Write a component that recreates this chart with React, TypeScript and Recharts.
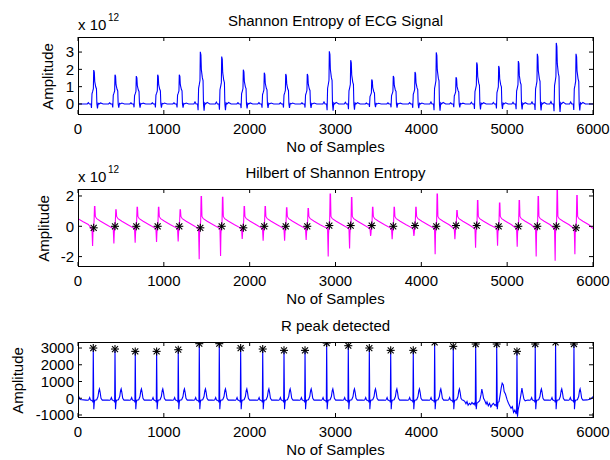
import React from "react"
import { LineChart, Line, XAxis, YAxis } from "recharts"

const FONT = '"Liberation Sans", Arial, Helvetica, sans-serif'
const xTicks = [0, 1000, 2000, 3000, 4000, 5000, 6000]
const X_MAX = 6000

// --- top panel: Shannon entropy (x 10^12) ---
const entropyPeaks = [183, 431, 679, 928, 1180, 1425, 1674, 1926, 2170, 2420, 2671, 2928, 3177, 3422, 3673, 3926, 4174, 4404, 4645, 4901, 5130, 5351, 5572, 5802]
const entropyHeights = [1.96, 1.69, 1.61, 1.69, 1.69, 3.01, 2.74, 1.98, 1.81, 1.73, 1.73, 3.04, 2.53, 1.42, 1.62, 1.85, 2.98, 1.54, 2.4, 2.2, 2.48, 2.9, 3.53, 2.9]
// offset from peak (samples), fraction of the peak height
const entropyShape: [number, number][] = [
  [-110, 0], [-75, 0], [-62, 0.04], [-50, 0], [-32, 0], [-26, -0.12], [-20, 0.3], [-12, 0.37],
  [-4, 0.45], [0, 1], [7, 0.94], [12, 0.66], [24, 0.5], [32, 0.45], [37, 0], [44, -0.13],
  [52, 0.02], [62, 0], [80, 0.03], [110, 0],
]

// --- middle panel: Hilbert of entropy (x 10^12) ---
const hilbertUp = [1.3, 1.09, 1.26, 1.26, 1.09, 1.96, 1.91, 1.3, 1.3, 1.22, 1.17, 2.13, 1.9, 1.26, 1.26, 1.26, 2.13, 1.04, 1.7, 1.54, 1.7, 1.96, 2.39, 2.02]
const hilbertDown = [-1.3, -1.13, -1.09, -1.04, -1.0, -2.17, -1.96, -0.83, -0.96, -0.96, -0.91, -2.0, -1.46, -0.63, -0.85, -0.63, -1.85, -0.85, -1.41, -1.28, -1.35, -2.0, -2.28, -1.85]
const hilbertStarY = [-0.1, 0, 0, 0, 0, -0.1, 0, -0.1, 0, 0, 0, 0.05, 0.05, 0.05, 0, 0.05, 0, 0.05, 0.05, 0, 0, 0, 0, -0.1]
const hilbertShape: [number, number | "down" | "up"][] = [
  [-30, -0.12], [-20, -0.2], [-13, "down"], [-9, -0.5], [-3, 0], [4, 0.3], [9, "up"], [14, "up"],
  [19, 0.65], [35, 0.5], [80, 0.33], [150, 0.1],
]
const hilbertStart: [number, number][] = [[0, 0.5], [60, 0.3], [120, 0.12]]
const hilbertEnd: [number, number][] = [[6000, -0.15]]

// --- bottom panel: ECG with detected R peaks ---
const rPeaks = [178, 431, 667, 916, 1168, 1413, 1646, 1895, 2152, 2400, 2645, 2897, 3149, 3394, 3643, 3906, 4155, 4372, 4633, 4878, 5114, 5327, 5564, 5778]
const rValues = [3000, 2940, 2800, 2800, 2900, 3260, 3260, 3000, 2940, 2860, 2860, 3300, 3140, 3000, 2860, 2860, 3340, 3100, 3240, 3240, 2800, 3240, 3340, 3240]
// offset from R (samples), value; the 0 offset takes the R value
const ecgShape: [number, number][] = [
  [-85, -110], [-60, -120], [-50, -60], [-42, 40], [-34, -90], [-20, -130], [-8, -160], [-4, -250],
  [0, 0], [6, -650], [12, -250], [18, -120], [40, -90], [55, 100], [65, 450], [72, 560], [80, 350],
  [90, 0], [105, -110],
]
const ecgNoisyFrom = 4480
const ecgNoisyTo = 5235
const ecgNoisy: [number, number][] = [
  [4490, -120], [4505, -180], [4520, -330], [4532, -200], [4545, -420], [4560, -300], [4575, -380],
  [4590, -250], [4605, -350], [4615, -300], [4625, -400], [4629, -150], [4633, 3240], [4640, -650],
  [4647, -300], [4660, -250], [4680, -150], [4695, 200], [4705, 550], [4715, 300], [4725, 0],
  [4740, -150], [4755, -350], [4765, -220], [4780, -450], [4795, -300], [4810, -520], [4825, -380],
  [4840, -300], [4855, -420], [4868, -380], [4874, -500], [4878, 3240], [4885, -650], [4893, -250],
  [4905, -200], [4918, 200], [4930, 600], [4942, 900], [4955, 800], [4965, 400], [4980, 250],
  [5000, -100], [5015, -300], [5030, -450], [5045, -600], [5060, -500], [5075, -850], [5090, -700],
  [5105, -950], [5110, -700], [5114, 2800], [5120, -1100], [5128, -700], [5140, -400], [5160, 200],
  [5172, 600], [5182, 300], [5195, -50], [5210, -150], [5230, -120],
]
const ecgStart: [number, number][] = [[0, 200], [25, -80]]
const ecgEnd: [number, number][] = [[5930, -100], [5975, -50], [6000, 100]]

const entropyData = [
  { x: 0, y: 0 },
  ...entropyPeaks.flatMap((p, i) => entropyShape.map(([dx, f]) => ({ x: p + dx, y: f * entropyHeights[i] }))),
  { x: 6000, y: 0 },
]

const hilbertData = [
  ...hilbertStart.map(([x, y]) => ({ x, y })),
  ...entropyPeaks.flatMap((p, i) =>
    hilbertShape.map(([dx, v]) => ({
      x: p + dx,
      y: v === "up" ? hilbertUp[i] : v === "down" ? hilbertDown[i] : v,
    }))
  ),
  ...hilbertEnd.map(([x, y]) => ({ x, y })),
]
const hilbertStars = entropyPeaks.map((p, i) => ({ x: p, y: hilbertStarY[i] }))

const ecgData = [
  ...ecgStart,
  ...rPeaks.flatMap((p, i) =>
    p > ecgNoisyFrom && p < ecgNoisyTo
      ? []
      : ecgShape.map(([dx, v]) => [p + dx, dx === 0 ? rValues[i] : v] as [number, number])
  ),
  ...ecgNoisy,
  ...ecgEnd,
]
  .sort((a, b) => a[0] - b[0])
  .map(([x, y]) => ({ x, y }))
const ecgStars = rPeaks.map((p, i) => ({ x: p, y: rValues[i] }))

const Star = (props: any) => {
  const { cx, cy, index } = props
  if (cx == null || cy == null) return <g key={index} />
  return (
    <g key={index} stroke="#000" strokeWidth={1.1}>
      <line x1={cx - 4} y1={cy} x2={cx + 4} y2={cy} />
      <line x1={cx} y1={cy - 4} x2={cx} y2={cy + 4} />
      <line x1={cx - 3} y1={cy - 3} x2={cx + 3} y2={cy + 3} />
      <line x1={cx - 3} y1={cy + 3} x2={cx + 3} y2={cy - 3} />
    </g>
  )
}

const W = 610
const LEFT = 78
const RIGHT = 17
const tickStyle = { fontSize: 15, fill: "#000", fontFamily: FONT }
const line = { stroke: "#000" }

type PanelOpts = {
  height: number
  mTop: number
  mBottom: number
  title: string
  exp?: boolean
  yDomain: [number, number]
  yTicks: number[]
  yLabelX: number
  series: React.ReactNode
}

function panel({ height, mTop, mBottom, title, exp, yDomain, yTicks, yLabelX, series }: PanelOpts) {
  const plotBottom = height - mBottom - 30
  const plotW = W - RIGHT - LEFT
  const plotH = plotBottom - mTop
  const midX = LEFT + plotW / 2
  const midY = (mTop + plotBottom) / 2 + 1
  const [y0, y1] = yDomain

  const xLabel = () => (
    <text x={midX} y={plotBottom + 38} textAnchor="middle" fontSize={15} fontFamily={FONT} fill="#000">
      No of Samples
    </text>
  )

  // y-label, title, exponent and the MATLAB-style box with inward ticks on top/right
  const yLabel = () => (
    <g fontFamily={FONT} fill="#000">
      <text x={yLabelX} y={midY} transform={`rotate(-90 ${yLabelX} ${midY})`} textAnchor="middle" fontSize={15}>
        Amplitude
      </text>
      <text x={midX} y={mTop - 11} textAnchor="middle" fontSize={15}>
        {title}
      </text>
      {exp && (
        <>
          <text x={LEFT} y={mTop - 7.5} fontSize={15}>
            x 10
          </text>
          <text x={108} y={mTop - 16} fontSize={10}>
            12
          </text>
        </>
      )}
      <g stroke="#000" strokeWidth={1} fill="none">
        <rect x={LEFT + 0.5} y={mTop + 0.5} width={plotW} height={plotH} />
        {xTicks.map((t) => {
          const x = LEFT + (t / X_MAX) * plotW
          return <line key={`t${t}`} x1={x} y1={mTop} x2={x} y2={mTop + 4} />
        })}
        {yTicks.map((t) => {
          const y = mTop + ((y1 - t) / (y1 - y0)) * plotH
          return <line key={`r${t}`} x1={LEFT + plotW} y1={y} x2={LEFT + plotW - 4} y2={y} />
        })}
      </g>
    </g>
  )

  return (
    <LineChart width={W} height={height} margin={{ top: mTop, right: RIGHT, bottom: mBottom, left: 0 }}>
      <XAxis
        type="number"
        dataKey="x"
        domain={[0, X_MAX]}
        ticks={xTicks}
        interval={0}
        allowDataOverflow
        height={30}
        tickSize={-4}
        tickMargin={13}
        tick={tickStyle}
        tickLine={line}
        axisLine={false}
        label={xLabel}
      />
      <YAxis
        type="number"
        domain={yDomain}
        ticks={yTicks}
        interval={0}
        allowDataOverflow
        width={LEFT}
        tickSize={-4}
        tickMargin={8}
        tick={tickStyle}
        tickLine={line}
        axisLine={false}
        label={yLabel}
      />
      {series}
    </LineChart>
  )
}

export default function App() {
  return (
    <div style={{ position: "absolute", left: 0, top: 0, width: W, height: 460, background: "#fff", fontFamily: FONT }}>
      {panel({
        height: 155,
        mTop: 37,
        mBottom: 11,
        title: "Shannon Entropy of ECG Signal",
        exp: true,
        yDomain: [-0.58, 3.87],
        yTicks: [0, 1, 2, 3],
        yLabelX: 52.5,
        series: (
          <Line data={entropyData} dataKey="y" type="linear" stroke="#0000ff" strokeWidth={1.1} dot={false} activeDot={false} isAnimationActive={false} />
        ),
      })}
      {panel({
        height: 152,
        mTop: 34,
        mBottom: 11,
        title: "Hilbert of Shannon Entropy",
        exp: true,
        yDomain: [-2.62, 2.46],
        yTicks: [-2, 0, 2],
        yLabelX: 49,
        series: [
          <Line key="h" data={hilbertData} dataKey="y" type="linear" stroke="#ff00ff" strokeWidth={1.1} dot={false} activeDot={false} isAnimationActive={false} />,
          <Line key="s" data={hilbertStars} dataKey="y" stroke="none" dot={Star} activeDot={false} isAnimationActive={false} />,
        ],
      })}
      {panel({
        height: 153,
        mTop: 35,
        mBottom: 13,
        title: "R peak detected",
        yDomain: [-1120, 3360],
        yTicks: [-1000, 0, 1000, 2000, 3000],
        yLabelX: 22.5,
        series: [
          <Line key="e" data={ecgData} dataKey="y" type="linear" stroke="#0000ff" strokeWidth={1.1} dot={false} activeDot={false} isAnimationActive={false} />,
          <Line key="s" data={ecgStars} dataKey="y" stroke="none" dot={Star} activeDot={false} isAnimationActive={false} />,
        ],
      })}
    </div>
  )
}
